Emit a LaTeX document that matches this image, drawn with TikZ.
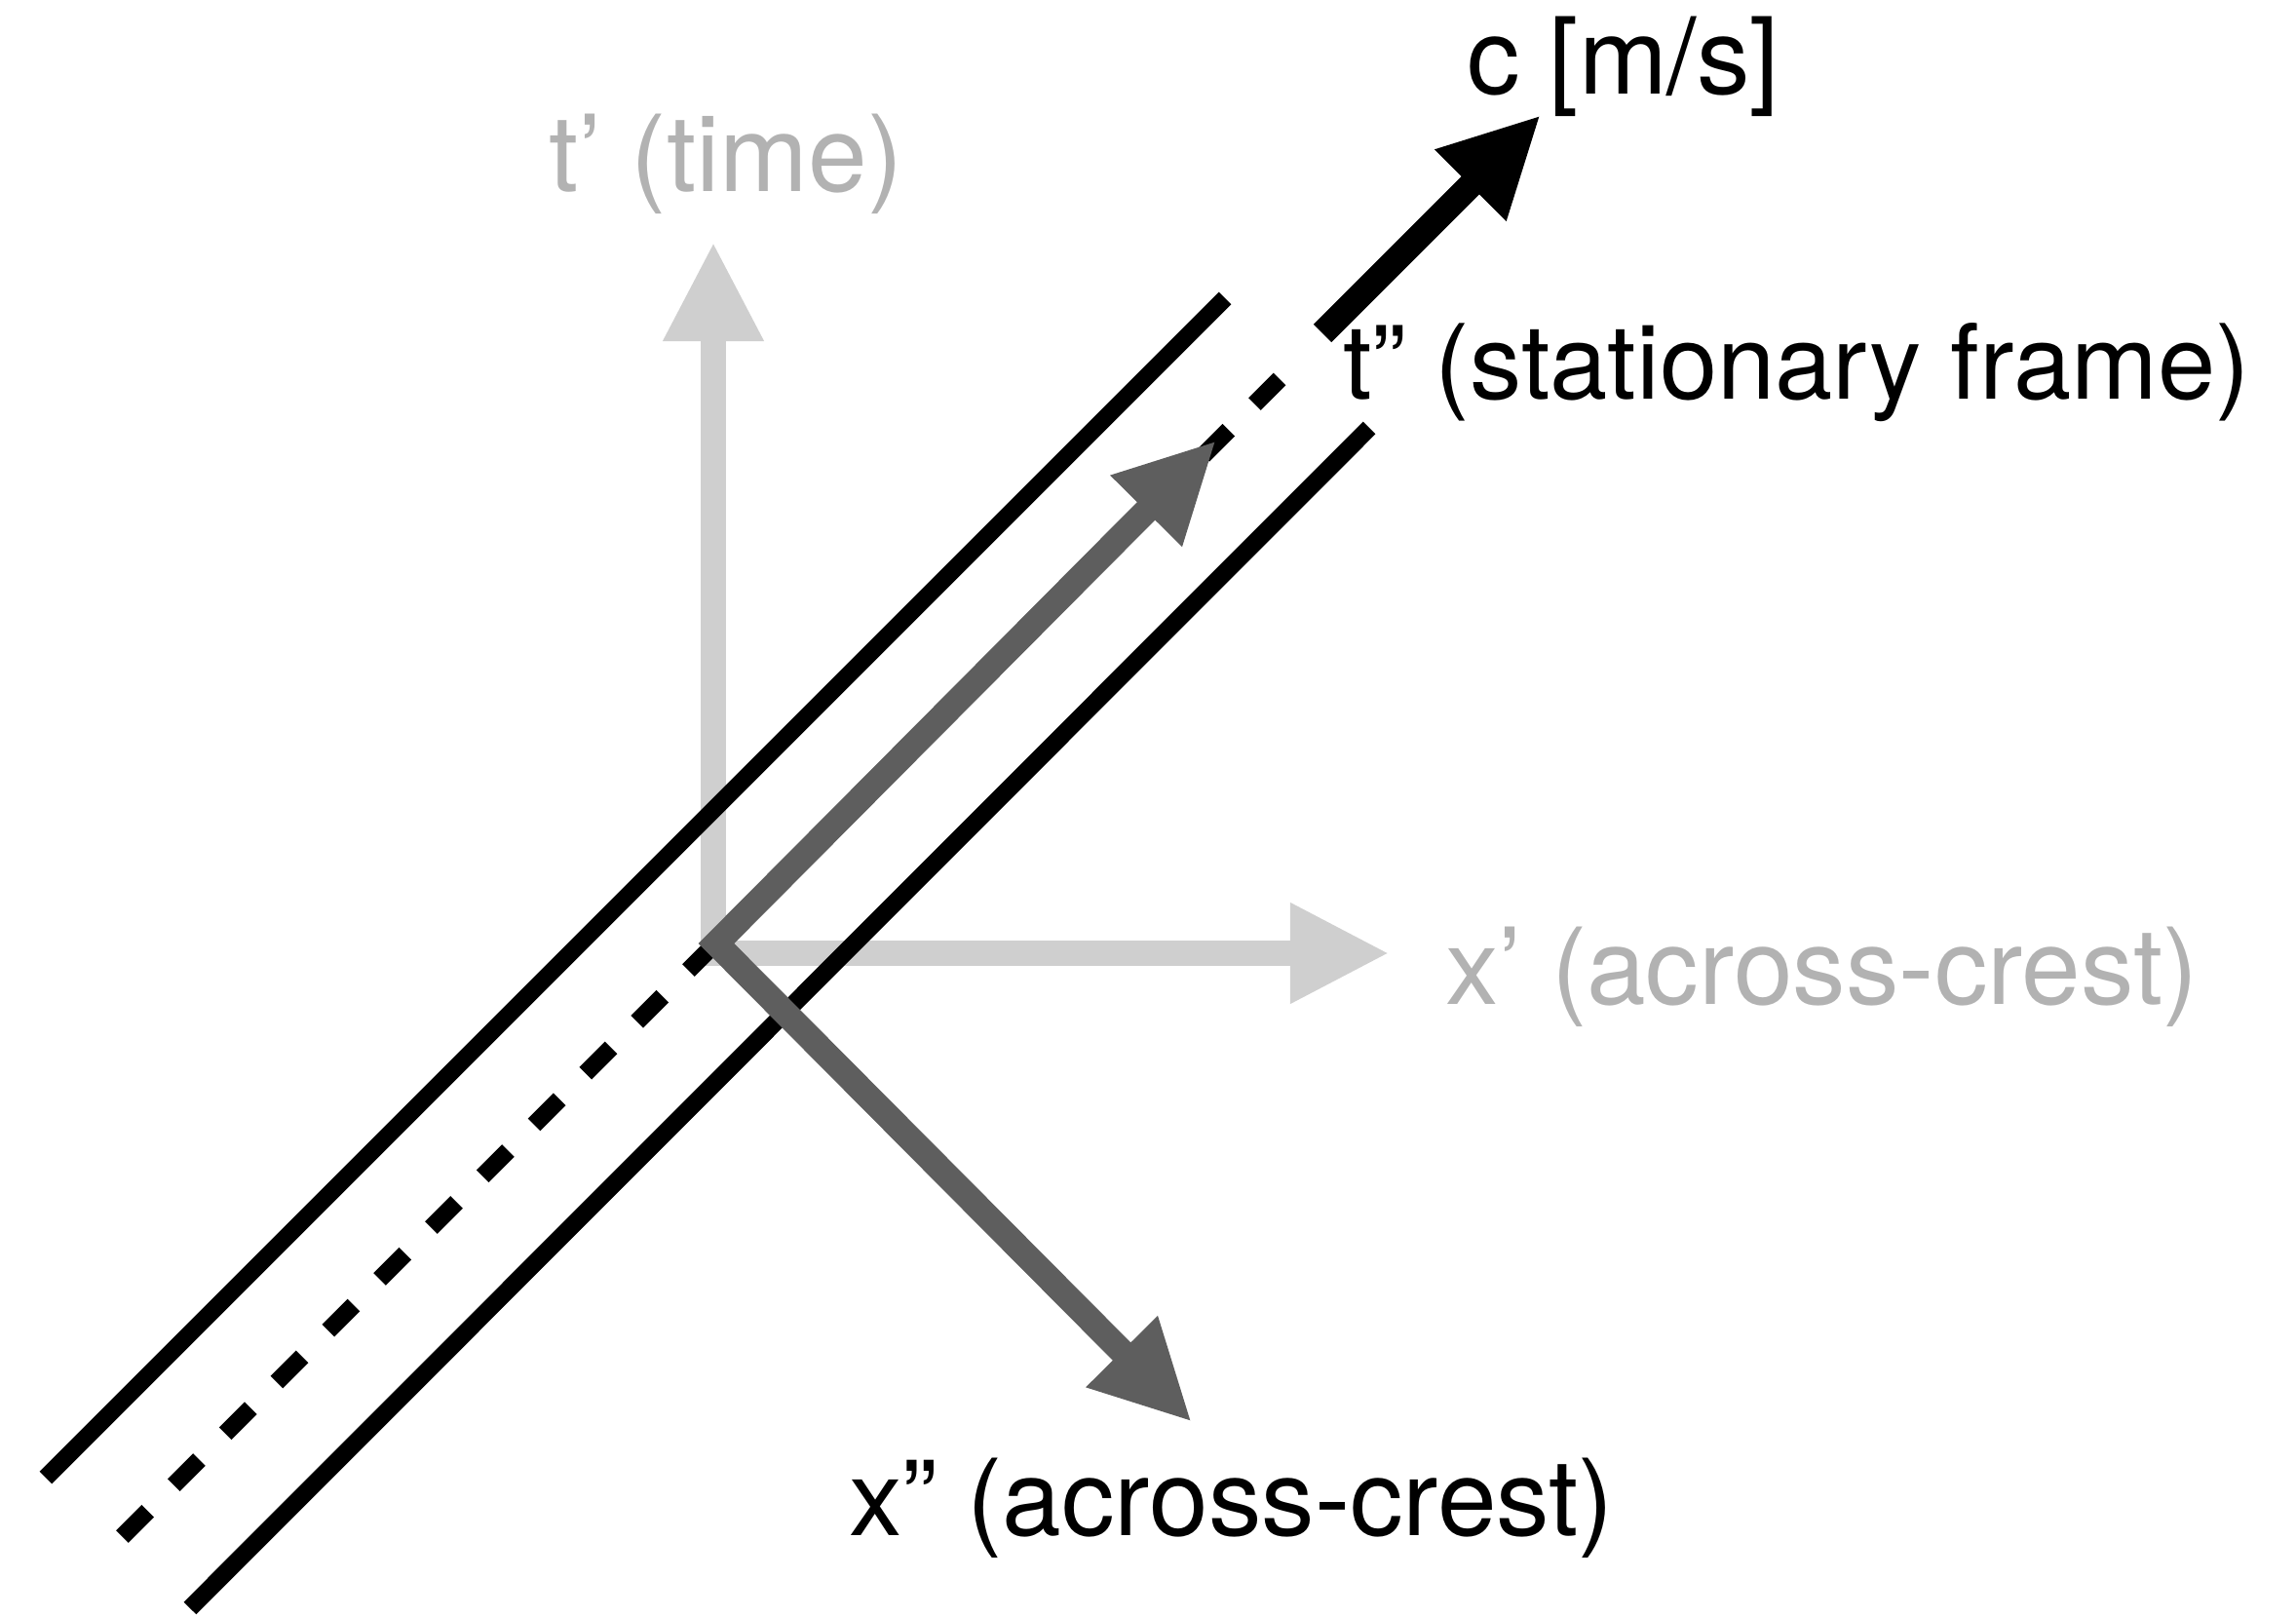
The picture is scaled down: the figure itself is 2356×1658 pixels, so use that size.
\documentclass[tikz,border=0pt]{standalone}
\usepackage{fontspec}
\setmainfont{TeX Gyre Heros}
\usepackage{tikz}
\usetikzlibrary{arrows.meta, positioning}

\definecolor{axisgray}{gray}{0.81}
\definecolor{textgray}{gray}{0.70}
\definecolor{framegray}{gray}{0.37}

\begin{document}
\begin{tikzpicture}[x=0.01cm, y=-0.01cm, outer sep=0pt, every node/.style={inner sep=0pt, font=\fontsize{31}{37}\selectfont}]
    \tikzstyle{axis} = [axisgray, line width=0.26cm, line cap=rect, -{Triangle[length=1.02cm, width=0.96cm]}]
    \tikzstyle{frame} = [framegray, line width=0.26cm, line join=miter, {Triangle[length=1.02cm, width=0.96cm]}-{Triangle[length=1.02cm, width=0.96cm]}]
    \tikzstyle{speed} = [black, line width=0.26cm, -{Triangle[length=1.02cm, width=0.96cm]}]
    \tikzstyle{crest} = [black, line width=0.18cm]
    \tikzstyle{lbl} = [anchor=base west]
    \useasboundingbox (0,0) rectangle (2356,1658);

    \coordinate (o) at (732,978);
    \coordinate (ttip) at (732,248);
    \coordinate (xtip) at (1426,978);
    \draw[axis] (o) -- (ttip);
    \draw[axis] (o) -- (xtip);

    \coordinate (a1) at (47,1516);
    \coordinate (a2) at (1257,306);
    \coordinate (b1) at (195,1650);
    \coordinate (b2) at (1405,439);
    \coordinate (m1) at (125.5,1576.5);
    \coordinate (m2) at (1313,389);
    \draw[crest] (a1) -- (a2);
    \draw[crest] (b1) -- (b2);
    \draw[crest, dash pattern=on 0.37cm off 0.3765cm] (m1) -- (m2);

    \coordinate (cs) at (1357,342);
    \coordinate (ce) at (1581,118);
    \draw[speed] (cs) -- (ce);

    \coordinate (v) at (735,968);
    \coordinate (t2) at (1248,452);
    \coordinate (x2) at (1223,1459);
    \draw[frame] (t2) -- (v) -- (x2);

    \node[lbl] (clab) at (1505,97) {c [m/s]};
    \node[lbl, text=textgray] (tlab) at (563,197) {t’ (time)};
    \node[lbl, font=\fontsize{30.3}{36}\selectfont] (t2lab) at (1378,410) {t” (stationary frame)};
    \node[lbl, text=textgray] (xlab) at (1483,1031) {x’ (across-crest)};
    \node[lbl] (x2lab) at (871,1575) {x” (across-crest)};
\end{tikzpicture}
\end{document}
